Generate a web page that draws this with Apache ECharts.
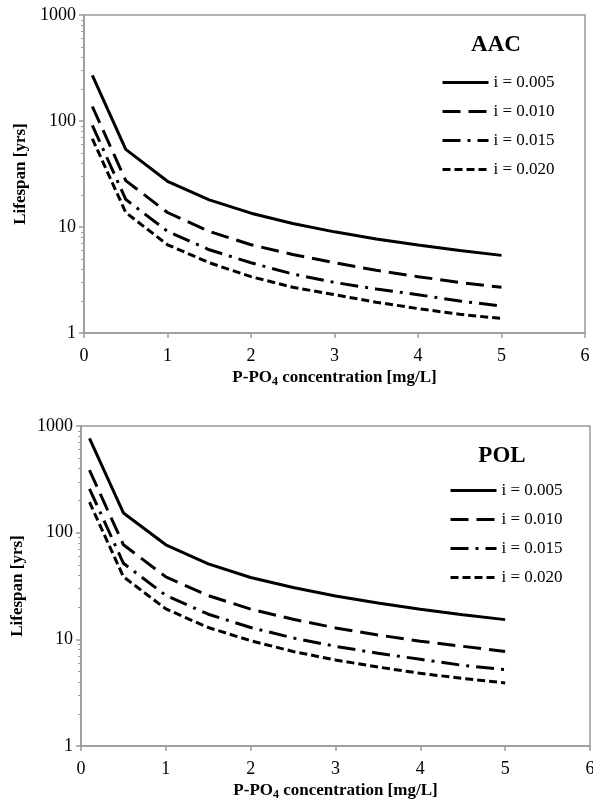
<!DOCTYPE html>
<html>
<head>
<meta charset="utf-8">
<script src="https://cdn.jsdelivr.net/npm/echarts@6/dist/echarts.min.js"></script>
<style>
  html, body { margin: 0; padding: 0; background: #fff; }
  #chart { width: 593px; height: 800px; }
</style>
</head>
<body>
<div id="chart"></div>
<script>
// P-PO4 concentration [mg/L]
const concentrations = [0.1, 0.5, 1, 1.5, 2, 2.5, 3, 3.5, 4, 4.5, 5];
const seriesNames = ['i = 0.005', 'i = 0.010', 'i = 0.015', 'i = 0.020'];

// lifespan [yrs], AAC
const aac005 = [270, 54, 27, 18, 13.5, 10.8, 9, 7.7, 6.75, 6, 5.4];
const aac010 = [137, 27.4, 13.7, 9.1, 6.8, 5.5, 4.6, 3.9, 3.4, 3.0, 2.7];
const aac015 = [91, 18.2, 9.1, 6.1, 4.6, 3.6, 3.0, 2.6, 2.3, 2.0, 1.8];
const aac020 = [68, 13.7, 6.8, 4.6, 3.4, 2.7, 2.3, 1.95, 1.7, 1.5, 1.37];

// lifespan [yrs], POL
const pol005 = [765, 153, 77, 51, 38, 30.6, 25.5, 21.9, 19.1, 17, 15.3];
const pol010 = [385, 77, 38.5, 25.7, 19.2, 15.4, 12.8, 11, 9.6, 8.6, 7.7];
const pol015 = [258, 51.6, 25.8, 17.2, 12.9, 10.3, 8.6, 7.4, 6.5, 5.7, 5.2];
const pol020 = [193, 38.6, 19.3, 12.9, 9.7, 7.7, 6.4, 5.5, 4.8, 4.3, 3.9];

const yMinor = [2, 3, 4, 5, 6, 7, 8, 9, 20, 30, 40, 50, 60, 70, 80, 90, 200, 300, 400, 500, 600, 700, 800, 900];

const FONT = '"Liberation Serif", "Times New Roman", serif';
const GREY = '#9a9a9a';
const dashes = ['solid', [18, 8], [18, 7, 3, 7], [8, 4]];

const pair = ys => concentrations.map((x, i) => [x, ys[i]]);

function makeSeries(gridIdx, arrays) {
    return arrays.map((ys, k) => ({
        name: seriesNames[k],
        type: 'line',
        xAxisIndex: gridIdx,
        yAxisIndex: gridIdx * 2,
        symbol: 'none',
        silent: true,
        itemStyle: { color: '#000' },
        lineStyle: { color: '#000', width: 3, type: dashes[k], cap: 'butt' },
        data: pair(ys)
    }));
}

function xAxis(gridIdx) {
    return {
        type: 'value', gridIndex: gridIdx, min: 0, max: 6, interval: 1,
        axisLine: { lineStyle: { color: GREY, width: 1.5 } },
        axisTick: { length: 5, lineStyle: { color: GREY, width: 1.5 } },
        splitLine: { show: false },
        axisLabel: { color: '#000', fontFamily: FONT, fontSize: 18, margin: 14 },
        name: '{b|P-PO}{s|4}{b| concentration [mg/L]}',
        nameLocation: 'middle',
        nameGap: 35,
        nameTextStyle: {
            rich: {
                b: { fontFamily: FONT, fontSize: 17, fontWeight: 'bold', color: '#000', lineHeight: 20, verticalAlign: 'middle' },
                s: { fontFamily: FONT, fontSize: 12, fontWeight: 'bold', color: '#000', lineHeight: 20, verticalAlign: 'bottom' }
            }
        }
    };
}

function yAxes(gridIdx) {
    return [{
        type: 'log', gridIndex: gridIdx, min: 1, max: 1000, logBase: 10,
        axisLine: { show: true, lineStyle: { color: GREY, width: 1.5 } },
        axisTick: { show: true, length: 5, lineStyle: { color: GREY, width: 1.5 } },
        splitLine: { show: false },
        axisLabel: { color: '#000', fontFamily: FONT, fontSize: 18, margin: 8, formatter: v => String(v) },
        name: 'Lifespan [yrs]',
        nameLocation: 'middle',
        nameGap: 53,
        nameTextStyle: { fontFamily: FONT, fontSize: 17, fontWeight: 'bold', color: '#000' }
    }, {
        type: 'log', gridIndex: gridIdx, min: 1, max: 1000, logBase: 10,
        position: 'left',
        axisLine: { show: false },
        axisLabel: { show: false },
        splitLine: { show: false },
        axisTick: { show: true, length: 3, customValues: yMinor, lineStyle: { color: GREY, width: 1 } }
    }];
}

function legend(left, top) {
    return {
        orient: 'vertical', left: left, top: top, padding: 0,
        itemWidth: 46, itemHeight: 14, itemGap: 12,
        selectedMode: false,
        data: seriesNames,
        itemStyle: { opacity: 0 },
        lineStyle: { width: 3 },
        textStyle: { fontFamily: FONT, fontSize: 17, color: '#000' }
    };
}

const chart = echarts.init(document.getElementById('chart'), null, { renderer: 'canvas' });

chart.setOption({
    animation: false,
    backgroundColor: '#fff',
    title: [
        { text: 'AAC', left: 496, top: 34, textAlign: 'center', padding: 0,
          textStyle: { fontFamily: FONT, fontSize: 23, fontWeight: 'bold', color: '#000' } },
        { text: 'POL', left: 502, top: 445, textAlign: 'center', padding: 0,
          textStyle: { fontFamily: FONT, fontSize: 23, fontWeight: 'bold', color: '#000' } }
    ],
    legend: [legend(441, 74), legend(449, 482)],
    grid: [
        { left: 84, top: 15, right: 8, height: 318, show: true, borderColor: GREY, borderWidth: 1.5, outerBoundsMode: 'none' },
        { left: 81, top: 426, right: 3, height: 320, show: true, borderColor: GREY, borderWidth: 1.5, outerBoundsMode: 'none' }
    ],
    xAxis: [xAxis(0), xAxis(1)],
    yAxis: [...yAxes(0), ...yAxes(1)],
    series: [
        ...makeSeries(0, [aac005, aac010, aac015, aac020]),
        ...makeSeries(1, [pol005, pol010, pol015, pol020])
    ]
});
</script>
</body>
</html>
